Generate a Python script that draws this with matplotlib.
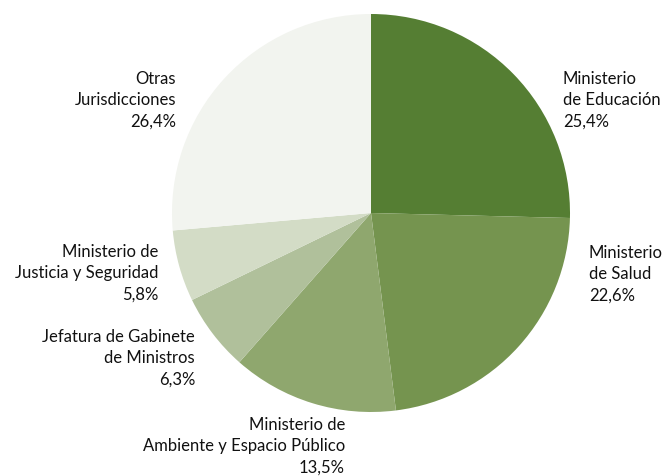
import matplotlib
matplotlib.use("Agg")
import matplotlib.pyplot as plt

categories = ["Ministerio de Educación", "Ministerio de Salud",
              "Ministerio de Ambiente y Espacio Público",
              "Jefatura de Gabinete de Ministros",
              "Ministerio de Justicia y Seguridad", "Otras Jurisdicciones"]
values = [25.4, 22.6, 13.5, 6.3, 5.8, 26.4]
label_texts = ["Ministerio\nde Educación\n25,4%",
               "Ministerio\nde Salud\n22,6%",
               "Ministerio de\nAmbiente y Espacio Público\n13,5%",
               "Jefatura de Gabinete\nde Ministros\n6,3%",
               "Ministerio de\nJusticia y Seguridad\n5,8%",
               "Otras\nJurisdicciones\n26,4%"]
colors = ["#557e33", "#75944f", "#8fa76e", "#b0c09b", "#d3dcc6", "#f2f4ef"]

W, H = 665, 476
fig = plt.figure(figsize=(W / 100, H / 100), dpi=100)
ax = fig.add_axes([0, 0, 1, 1])

cx, cy, r = 371, H - 213, 199
ax.pie(values, colors=colors, startangle=90, counterclock=False,
       center=(cx, cy), radius=r, frame=True,
       wedgeprops=dict(linewidth=0))
ax.set_xlim(0, W)
ax.set_ylim(0, H)
ax.set_aspect("equal")
ax.axis("off")

# label anchor (x, y of middle line, alignment)
anchors = [(563, 100, "left"), (589, 274, "left"), (345, 446, "right"),
           (195, 358, "right"), (158, 273, "right"), (176, 100, "right")]
fam = ["Lato", "DejaVu Sans"]
for txt, (x, y, ha) in zip(label_texts, anchors):
    ax.text(x, H - y, txt, ha=ha, va="center", multialignment=ha,
            fontsize=12, family=fam, color="#111111", linespacing=1.4)

fig.savefig("out.png", dpi=100)
